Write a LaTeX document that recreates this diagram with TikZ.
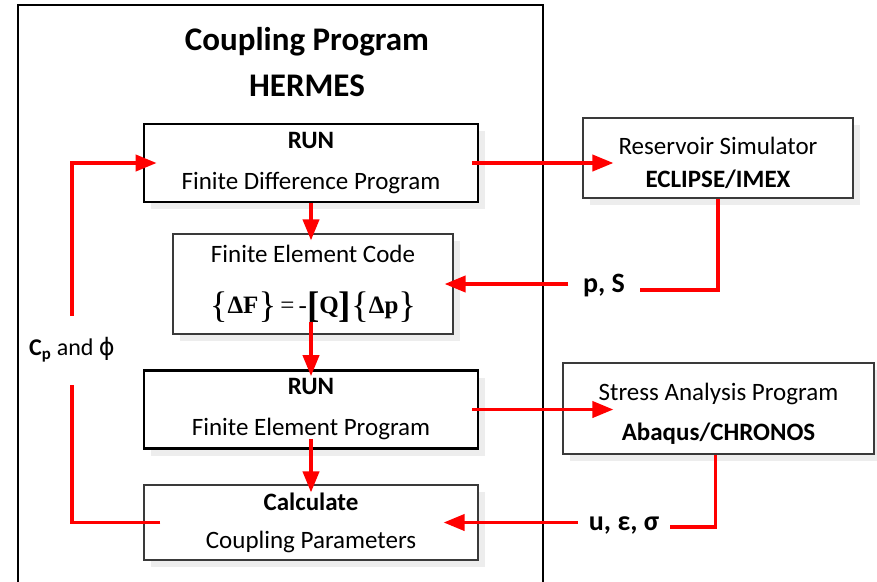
\documentclass[tikz,border=0pt]{standalone}
\usepackage{amsmath,fontspec}
\setmainfont{Carlito}
\newfontfamily\eqfont{Liberation Serif}
\newfontfamily\symfont{DejaVu Sans}
\newcommand\eqbig[1]{\raisebox{-3.5pt}{\fontsize{37}{37}\selectfont#1}}
\usetikzlibrary{arrows.meta,positioning,calc,shadows}
\definecolor{Flow}{HTML}{FF0000}
\definecolor{Edge}{HTML}{3A3A3A}

\begin{document}
\begin{tikzpicture}[x=1pt,y=-1pt,>={Triangle[length=21pt,width=16pt]},
 soft/.style={drop shadow={shadow xshift=7pt,shadow yshift=-7pt,opacity=.07,fill=black}},
 runbox/.style={draw=black,line width=2.6pt,fill=white,soft,minimum width=334pt,minimum height=78pt,align=center,font=\fontsize{25}{41}\selectfont},
 plainbox/.style={draw=Edge,line width=1.1pt,fill=white,soft,align=center,font=\fontsize{25}{40}\selectfont},
 link/.style={->,draw=Flow,line width=3.8pt},
 wire/.style={draw=Flow,line width=3.8pt},
 tag/.style={font=\bfseries\fontsize{28}{30}\selectfont,inner ysep=2pt}]
\useasboundingbox(0,0)rectangle(877,581);
\node[draw=black,line width=2pt,minimum width=525pt,minimum height=590pt](hermes)at(280.5,300){};
\node[font=\bfseries\fontsize{33}{35}\selectfont](title)at(307,42){Coupling Program};
\node[font=\bfseries\fontsize{33}{35}\selectfont](name)at(307,86){HERMES};
% boxes of the coupling loop
\node[runbox](fd)at(311,163){\textbf{RUN}\\Finite Difference Program};
\node[plainbox,font=\fontsize{25}{51}\selectfont,minimum width=280pt,minimum height=100pt](fec)at(313,284){Finite Element Code\\
 {\eqfont\eqbig{\{}\textbf{ΔF}\eqbig{\}}\,=\,-\eqbig{\textbf{[}}\textbf{Q}\eqbig{\textbf{]}}\eqbig{\{}\textbf{Δp}\eqbig{\}}}};
\node[runbox](fe)at(311,409.5){\textbf{RUN}\\Finite Element Program};
\node[plainbox,font=\fontsize{25}{38}\selectfont,minimum width=334pt,minimum height=75pt](calc)at(311,522.5){\textbf{Calculate}\\Coupling Parameters};
% outside programs
\node[plainbox,font=\fontsize{25}{33}\selectfont,minimum width=270pt,minimum height=80pt](res)at(718,158){\rule{0pt}{27pt}Reservoir Simulator\\\textbf{ECLIPSE/IMEX}};
\node[plainbox,minimum width=311pt,minimum height=91pt](stress)at(718.5,408.5){\rule{0pt}{27pt}Stress Analysis Program\\\textbf{Abaqus/CHRONOS}};
% exchanged quantities
\node[tag,inner xsep=14.5pt](ps)at(604,286){p, S};
\node[tag,inner xsep=11pt](uep)at(624,525){u, ε, σ};
\node[font=\fontsize{24}{26}\selectfont,inner ysep=22pt](cpphi)at(72,350){\textbf{C\textsubscript{p}} and {\symfont ϕ}};
% connectors
\draw[link]([xshift=-7pt]fd.east)--($(fd.east-|res.west)+(31,0)$);
\draw[link]([xshift=-7pt]fe.east)--($(fe.east-|stress.west)+(51,0)$);
\draw[wire](res.south)|-([yshift=-4pt]ps.east);
\draw[link](ps.west|-fec.east)--([xshift=-9pt]fec.east);
\draw[wire]([xshift=-3pt]stress.south)|-([yshift=-2pt]uep.east);
\draw[link](uep.west|-calc.east)--([xshift=-35pt]calc.east);
\draw[link](fd.south)--([yshift=-7pt]fec.north-|fd.south);
\draw[link]([yshift=13pt]fec.south-|fe.north)--([yshift=-7pt]fe.north);
\draw[link]([yshift=11pt]fe.south)--([yshift=-8pt]calc.north);
\draw[wire]([xshift=17pt]calc.west)-|(cpphi.south);
\draw[link](cpphi.north)|-([xshift=14pt]fd.west);
\end{tikzpicture}
\end{document}
